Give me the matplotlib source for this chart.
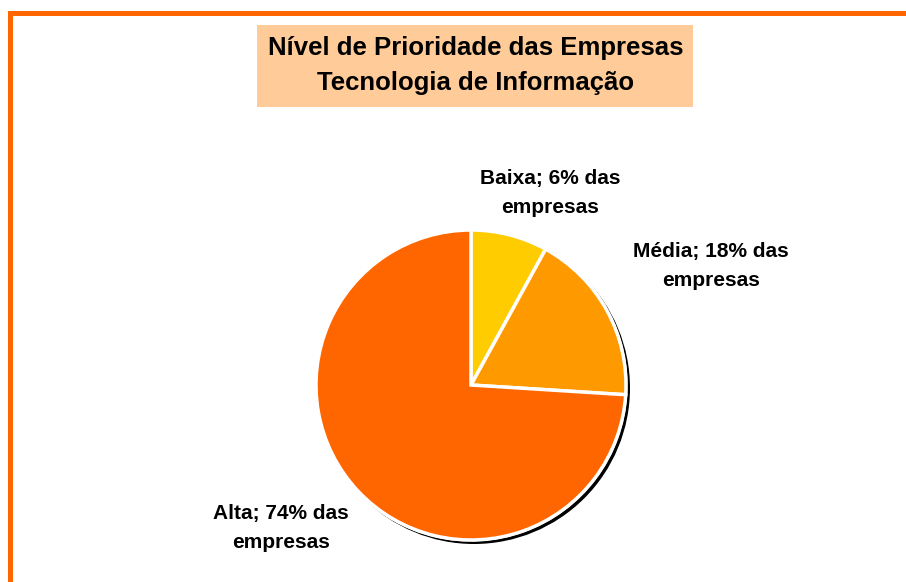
import matplotlib
matplotlib.use("Agg")
import matplotlib.pyplot as plt
from matplotlib.patches import Rectangle, Circle

# Data
categories = ["Baixa", "Média", "Alta"]
values = [8, 18, 74]          # drawn slice sizes
label_pct = ["6%", "18%", "74%"]  # percentages as printed on the labels
colors = ["#FFCC00", "#FF9900", "#FF6600"]
title_lines = ["Nível de Prioridade das Empresas", "Tecnologia de Informação"]

W, H = 906, 582
fig = plt.figure(figsize=(W / 100, H / 100), dpi=100)
ax = fig.add_axes([0, 0, 1, 1])
ax.set_xlim(0, W)
ax.set_ylim(0, H)
ax.set_aspect("equal")
ax.axis("off")

def Y(y):
    return H - y

font = "Liberation Sans"

# Orange frame (top and left)
ax.add_patch(Rectangle((8, Y(16)), W, 5, color="#FF6600", lw=0, zorder=1))
ax.add_patch(Rectangle((8, 0), 5, Y(11), color="#FF6600", lw=0, zorder=1))

# Title box
ax.add_patch(Rectangle((257, Y(107)), 436, 82, color="#FFCC99", lw=0, zorder=1))
ax.text(476, Y(48), title_lines[0], ha="center", va="center", fontsize=18.5,
        fontweight="bold", family=font, color="black", zorder=2)
ax.text(476, Y(83), title_lines[1], ha="center", va="center", fontsize=18.5,
        fontweight="bold", family=font, color="black", zorder=2)

# Pie
cx, cy, r = 471, Y(385), 155
ax.add_patch(Circle((cx + 3, cy - 3), r + 1, color="black", lw=0, zorder=2))
ax.add_patch(Circle((cx, cy), r + 1.5, color="white", lw=0, zorder=2.5))
wedges, _ = ax.pie(values, colors=colors, startangle=90, counterclock=False,
                   center=(cx, cy), radius=r,
                   wedgeprops=dict(edgecolor="white", linewidth=2.5))
for w in wedges:
    w.set_zorder(3)
ax.set_xlim(0, W)
ax.set_ylim(0, H)

# Labels
label_pos = [(550, 193), (711, 266), (281, 528)]
for cat, pct, (lx, ly) in zip(categories, label_pct, label_pos):
    ax.text(lx, Y(ly), f"{cat}; {pct} das\nempresas", ha="center", va="center",
            fontsize=15, fontweight="bold", family=font, color="black",
            linespacing=1.7, zorder=4)

fig.savefig("out.png", dpi=100, facecolor="white")
